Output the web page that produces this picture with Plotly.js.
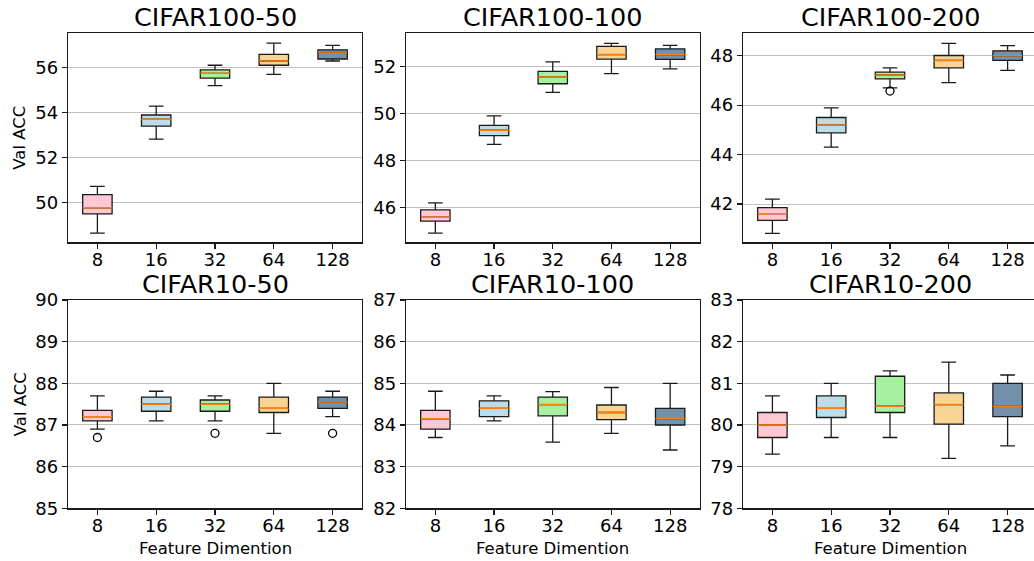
<!DOCTYPE html>
<html>
<head>
<meta charset="utf-8">
<script src="https://cdn.plot.ly/plotly-3.0.1.min.js"></script>
<style>
  html, body { margin: 0; padding: 0; overflow: hidden; background: #fff; }
  #chart { width: 1040px; height: 561px; }
</style>
</head>
<body>
<div id="chart"></div>
<script>
// ---------------- data ----------------
const categories = ['8', '16', '32', '64', '128'];
const panelTitles = ['CIFAR100-50', 'CIFAR100-100', 'CIFAR100-200', 'CIFAR10-50', 'CIFAR10-100', 'CIFAR10-200'];
const boxColors = ['#FFC8D2', '#BCDDE8', '#A6F0A0', '#F8D594', '#7391AA'];

// CIFAR100-50
const c100_50_lo  = [48.62, 52.81, 55.20, 55.70, 56.30];
const c100_50_q1  = [49.48, 53.39, 55.54, 56.11, 56.39];
const c100_50_med = [49.75, 53.70, 55.75, 56.30, 56.70];
const c100_50_q3  = [50.34, 53.89, 55.90, 56.60, 56.80];
const c100_50_hi  = [50.71, 54.29, 56.11, 57.10, 57.00];
const c100_50_out = [[], [], [], [], []];

// CIFAR100-100
const c100_100_lo  = [44.91, 48.69, 50.90, 51.70, 51.90];
const c100_100_q1  = [45.42, 49.06, 51.27, 52.32, 52.31];
const c100_100_med = [45.59, 49.29, 51.56, 52.51, 52.51];
const c100_100_q3  = [45.90, 49.50, 51.80, 52.86, 52.75];
const c100_100_hi  = [46.20, 49.90, 52.20, 52.99, 52.90];
const c100_100_out = [[], [], [], [], []];

// CIFAR100-200
const c100_200_lo  = [40.81, 44.30, 46.70, 46.91, 47.41];
const c100_200_q1  = [41.34, 44.88, 47.06, 47.51, 47.81];
const c100_200_med = [41.61, 45.20, 47.22, 47.81, 48.00];
const c100_200_q3  = [41.85, 45.50, 47.34, 48.01, 48.20];
const c100_200_hi  = [42.20, 45.89, 47.51, 48.50, 48.41];
const c100_200_out = [[], [], [46.57], [], []];

// CIFAR10-50
const c10_50_lo  = [86.90, 87.10, 87.10, 86.80, 87.20];
const c10_50_q1  = [87.10, 87.33, 87.33, 87.30, 87.40];
const c10_50_med = [87.20, 87.50, 87.50, 87.40, 87.55];
const c10_50_q3  = [87.35, 87.67, 87.60, 87.67, 87.67];
const c10_50_hi  = [87.70, 87.81, 87.70, 88.00, 87.81];
const c10_50_out = [[86.70], [], [86.80], [], [86.80]];

// CIFAR10-100
const c10_100_lo  = [83.70, 84.10, 83.59, 83.80, 83.40];
const c10_100_q1  = [83.90, 84.20, 84.22, 84.13, 84.00];
const c10_100_med = [84.15, 84.40, 84.49, 84.30, 84.15];
const c10_100_q3  = [84.35, 84.58, 84.67, 84.48, 84.40];
const c10_100_hi  = [84.81, 84.70, 84.80, 84.90, 85.00];
const c10_100_out = [[], [], [], [], []];

// CIFAR10-200
const c10_200_lo  = [79.30, 79.70, 79.70, 79.20, 79.50];
const c10_200_q1  = [79.70, 80.18, 80.30, 80.02, 80.20];
const c10_200_med = [80.00, 80.40, 80.45, 80.49, 80.45];
const c10_200_q3  = [80.30, 80.70, 81.17, 80.77, 81.00];
const c10_200_hi  = [80.70, 81.00, 81.30, 81.51, 81.20];
const c10_200_out = [[], [], [], [], []];

const yRanges = [[48.21, 57.55], [44.52, 53.43], [40.45, 48.92], [85, 90], [82, 87], [78, 83]];
const yDticks = [2, 2, 2, 1, 1, 1];

// ---------------- build ----------------
const panels = [
  {lo: c100_50_lo, q1: c100_50_q1, med: c100_50_med, q3: c100_50_q3, hi: c100_50_hi, out: c100_50_out},
  {lo: c100_100_lo, q1: c100_100_q1, med: c100_100_med, q3: c100_100_q3, hi: c100_100_hi, out: c100_100_out},
  {lo: c100_200_lo, q1: c100_200_q1, med: c100_200_med, q3: c100_200_q3, hi: c100_200_hi, out: c100_200_out},
  {lo: c10_50_lo, q1: c10_50_q1, med: c10_50_med, q3: c10_50_q3, hi: c10_50_hi, out: c10_50_out},
  {lo: c10_100_lo, q1: c10_100_q1, med: c10_100_med, q3: c10_100_q3, hi: c10_100_hi, out: c10_100_out},
  {lo: c10_200_lo, q1: c10_200_q1, med: c10_200_med, q3: c10_200_q3, hi: c10_200_hi, out: c10_200_out}
];

const W = 1040, H = 561;
const colPx = [[68, 362], [406, 699.5], [743, 1037]];
const rowPx = [[33, 242.3], [300, 508.3]];
const FONT = 'DejaVu Sans, Liberation Sans, sans-serif';

const traces = [];
const layout = {
  width: W, height: H,
  margin: {l: 0, r: 0, t: 0, b: 0},
  paper_bgcolor: '#ffffff',
  plot_bgcolor: '#ffffff',
  showlegend: false,
  boxmode: 'overlay',
  font: {family: FONT, color: '#000', size: 18},
  annotations: []
};

panels.forEach((p, i) => {
  const n = i + 1;
  const xa = n === 1 ? 'x' : 'x' + n;
  const ya = n === 1 ? 'y' : 'y' + n;
  const col = i % 3, row = Math.floor(i / 3);
  const xd = [colPx[col][0] / W, colPx[col][1] / W];
  const yd = [(H - rowPx[row][1]) / H, (H - rowPx[row][0]) / H];

  categories.forEach((c, k) => {
    traces.push({
      type: 'box', x: [c], xaxis: xa, yaxis: ya,
      q1: [p.q1[k]], median: [p.med[k]], q3: [p.q3[k]],
      lowerfence: [p.lo[k]], upperfence: [p.hi[k]],
      boxpoints: false, width: 0.5, whiskerwidth: 0.5,
      fillcolor: boxColors[k],
      line: {color: '#1a1a1a', width: 1.3},
      hoverinfo: 'skip'
    });
    traces.push({
      type: 'box', x: [c], xaxis: xa, yaxis: ya,
      q1: [p.med[k]], median: [p.med[k]], q3: [p.med[k]],
      lowerfence: [p.med[k]], upperfence: [p.med[k]],
      boxpoints: false, width: 0.5, whiskerwidth: 0,
      fillcolor: 'rgba(0,0,0,0)',
      line: {color: '#ff7f0e', width: 1.5},
      hoverinfo: 'skip'
    });
    if (p.out[k].length) {
      traces.push({
        type: 'scatter', mode: 'markers', xaxis: xa, yaxis: ya,
        x: p.out[k].map(() => c), y: p.out[k],
        marker: {symbol: 'circle-open', size: 8, color: '#000', line: {width: 1.3, color: '#000'}},
        hoverinfo: 'skip'
      });
    }
  });

  const axisKeyX = n === 1 ? 'xaxis' : 'xaxis' + n;
  const axisKeyY = n === 1 ? 'yaxis' : 'yaxis' + n;
  layout[axisKeyX] = {
    domain: xd, anchor: ya, type: 'category',
    categoryorder: 'array', categoryarray: categories,
    range: [-0.5, 4.5], fixedrange: true,
    showgrid: false, zeroline: false,
    showline: true, mirror: true, linecolor: '#1a1a1a', linewidth: 1.2,
    ticks: 'outside', ticklen: 5, tickwidth: 1.2, tickcolor: '#1a1a1a',
    ticklabelstandoff: -4,
    tickfont: {size: 18, family: FONT, color: '#000'}
  };
  layout[axisKeyY] = {
    domain: yd, anchor: xa, range: yRanges[i],
    tick0: 0, dtick: yDticks[i], fixedrange: true,
    showgrid: true, gridcolor: '#c0c0c0', gridwidth: 1,
    zeroline: false,
    showline: true, mirror: true, linecolor: '#1a1a1a', linewidth: 1.2,
    ticks: 'outside', ticklen: 5, tickwidth: 1.2, tickcolor: '#1a1a1a',
    tickfont: {size: 18, family: FONT, color: '#000'}
  };

  layout.annotations.push({
    text: panelTitles[i], showarrow: false,
    xref: 'paper', yref: 'paper',
    x: (xd[0] + xd[1]) / 2, y: yd[1],
    xanchor: 'center', yanchor: 'bottom', yshift: -1,
    font: {size: 25.5, family: FONT, color: '#000'}
  });

  if (col === 0) {
    layout.annotations.push({
      text: 'Val ACC', showarrow: false, textangle: -90,
      xref: 'paper', yref: 'paper',
      x: 20 / W, y: (yd[0] + yd[1]) / 2,
      xanchor: 'center', yanchor: 'middle',
      font: {size: 16.5, family: FONT, color: '#000'}
    });
  }
  if (row === 1) {
    layout.annotations.push({
      text: 'Feature Dimention', showarrow: false,
      xref: 'paper', yref: 'paper',
      x: (xd[0] + xd[1]) / 2, y: (H - 548) / H,
      xanchor: 'center', yanchor: 'middle',
      font: {size: 16.5, family: FONT, color: '#000'}
    });
  }
});

Plotly.newPlot('chart', traces, layout, {displayModeBar: false, staticPlot: true});
</script>
</body>
</html>
